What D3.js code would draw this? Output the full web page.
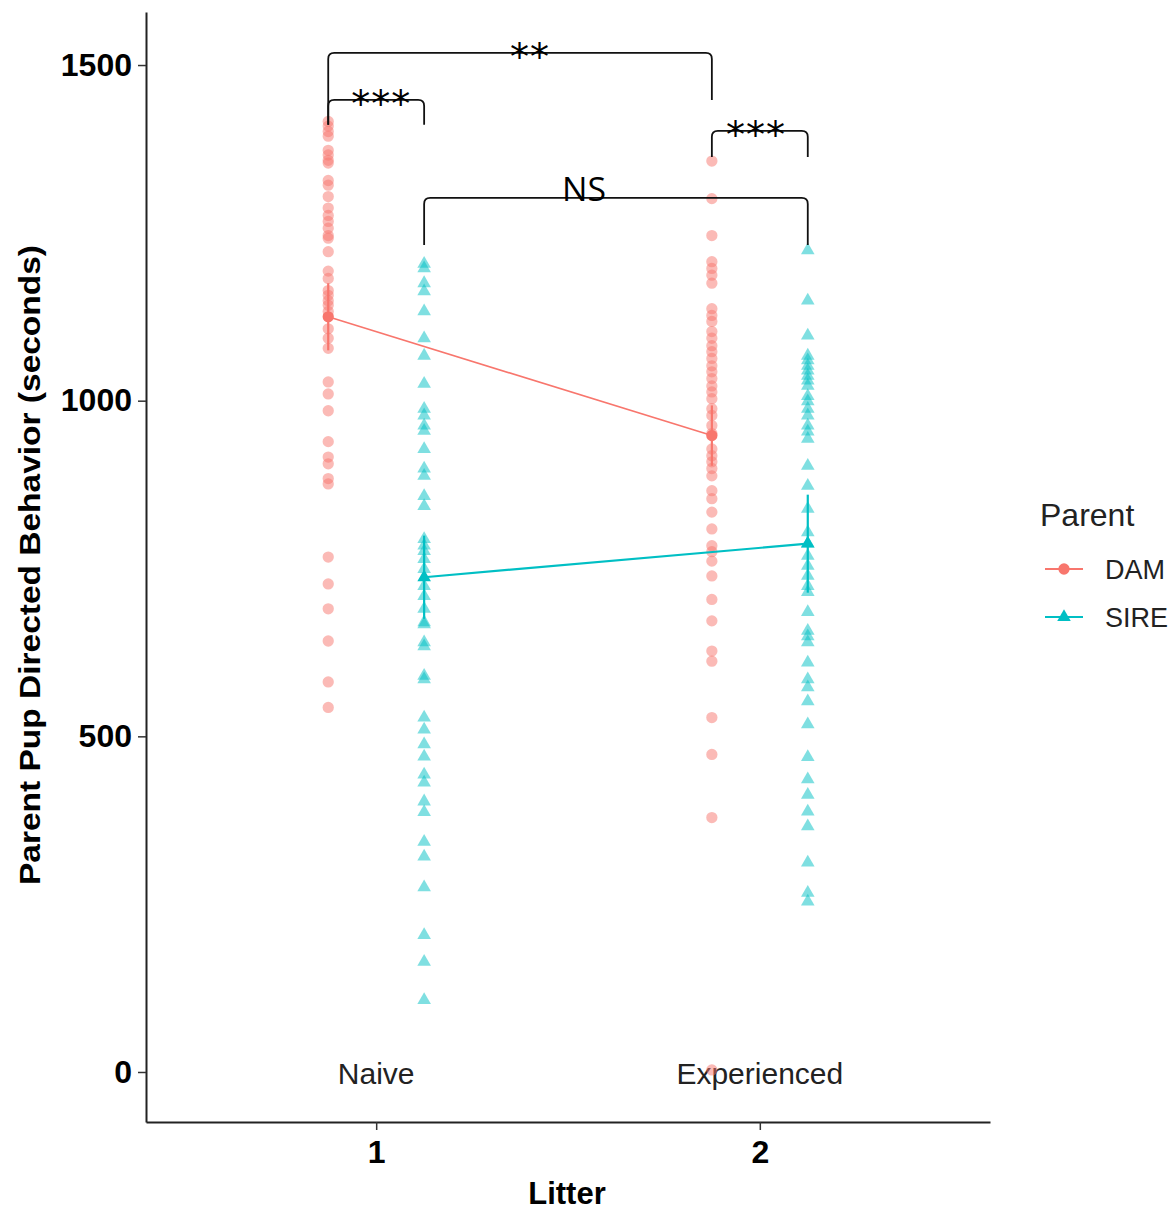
<!DOCTYPE html>
<html><head><meta charset="utf-8">
<script src="https://cdn.jsdelivr.net/npm/d3@7"></script>
<style>body{margin:0;background:#fff}svg{display:block}</style>
</head><body>
<svg id="c" width="1174" height="1212"></svg>
<script>
// ---- data ----
const litters = [1, 2];
const litterLabels = ["Naive", "Experienced"];
const parents = ["DAM", "SIRE"];
const yTicks = [0, 500, 1000, 1500];
const damNaive = [1416,1409,1401,1394,1373,1366,1358,1354,1328,1321,1304,1287,1276,1267,1257,1246,1242,1222,1193,1182,1164,1157,1149,1142,1133,1107,1093,1078,1028,1010,985,939,916,906,884,876,767,727,690,642,581,543];
const damExperienced = [1357,1301,1246,1207,1197,1187,1175,1137,1127,1118,1103,1093,1082,1073,1063,1052,1043,1033,1022,1013,1003,988,978,963,951,928,918,909,899,888,866,854,834,809,784,775,761,739,704,672,627,612,528,473,379,3];
const sireNaive = [1204,1197,1175,1163,1133,1093,1067,1025,988,978,963,955,928,899,888,858,843,794,784,776,764,749,724,709,690,670,667,640,634,590,585,528,510,488,470,443,431,403,387,343,321,275,204,164,107];
const sireExperienced = [1224,1149,1097,1067,1060,1052,1045,1037,1030,1022,1007,999,988,978,963,954,943,903,873,839,804,787,769,754,739,724,715,685,657,649,640,610,585,573,552,518,469,436,413,388,366,312,267,254];
const damMeans = [1125, 948];
const sireMeans = [737, 787];
const damSE = [50, 45];
const sireSE = [62, 73];
const bracketX1 = [0.875, 0.875, 1.875, 1.125];
const bracketX2 = [1.875, 1.125, 2.125, 2.125];
const bracketTop = [1518, 1448, 1402, 1302];
const bracketLegL = [1411, 1411, 1363, 1232];
const bracketLegR = [1448, 1411, 1363, 1232];
const bracketLabels = ["**", "***", "***", "NS"];
const bracketLabelShift = [0.026, 0.013, -0.01, -0.083];

// ---- layout ----
const colors = {DAM: "#F8766D", SIRE: "#00BFC4"};
const dodge = {DAM: -0.125, SIRE: 0.125};
const svg = d3.select("#c");
const x = d3.scaleLinear().domain([0.4, 2.6]).range([146, 990]);
const y = d3.scaleLinear().domain([-74.5, 1579]).range([1122, 12]);
const font = "'Liberation Sans', Arial, sans-serif";

// axes
const yAxis = svg.append("g").attr("transform", "translate(146,0)")
  .call(d3.axisLeft(y).tickValues(yTicks).tickFormat(d3.format("d")).tickSize(8).tickPadding(6).tickSizeOuter(0));
yAxis.select(".domain").attr("stroke", "#222").attr("stroke-width", 2);
yAxis.selectAll(".tick line").attr("stroke", "#333").attr("stroke-width", 1.5);
yAxis.selectAll(".tick text").attr("font-family", font).attr("font-weight", "bold")
  .attr("font-size", 32).attr("fill", "#000");

const xAxis = svg.append("g").attr("transform", "translate(0,1122)")
  .call(d3.axisBottom(x).tickValues(litters).tickFormat(d3.format("d")).tickSize(8).tickPadding(10).tickSizeOuter(0));
xAxis.select(".domain").attr("stroke", "#222").attr("stroke-width", 2);
xAxis.selectAll(".tick line").attr("stroke", "#333").attr("stroke-width", 1.5);
xAxis.selectAll(".tick text").attr("font-family", font).attr("font-weight", "bold")
  .attr("font-size", 32).attr("fill", "#000");

// axis titles
svg.append("text").attr("transform", "translate(40,565) rotate(-90)")
  .attr("text-anchor", "middle").attr("font-family", font).attr("font-weight", "bold")
  .attr("font-size", 30).attr("textLength", 640).attr("lengthAdjust", "spacingAndGlyphs")
  .text("Parent Pup Directed Behavior (seconds)");
svg.append("text").attr("x", 567).attr("y", 1204).attr("text-anchor", "middle")
  .attr("font-family", font).attr("font-weight", "bold").attr("font-size", 31).text("Litter");

// litter labels
svg.selectAll("text.lit").data(litters).enter().append("text").attr("class", "lit")
  .attr("x", d => x(d)).attr("y", y(0) + 12).attr("text-anchor", "middle")
  .attr("font-family", font).attr("font-size", 30).attr("fill", "#222")
  .text((d, i) => litterLabels[i]);

// points
const sets = [
  {p: "DAM", l: 1, v: damNaive}, {p: "DAM", l: 2, v: damExperienced},
  {p: "SIRE", l: 1, v: sireNaive}, {p: "SIRE", l: 2, v: sireExperienced}
];
const circ = d3.symbol().type(d3.symbolCircle).size(100);
const tri = d3.symbol().type(d3.symbolTriangle).size(80);
sets.forEach(s => {
  svg.append("g").selectAll("path").data(s.v).enter().append("path")
    .attr("d", s.p === "DAM" ? circ : tri)
    .attr("transform", d => `translate(${x(s.l + dodge[s.p])},${y(d)})`)
    .attr("fill", colors[s.p]).attr("fill-opacity", 0.5);
});

// means, lines, error bars
const summ = [
  {p: "DAM", m: damMeans, se: damSE},
  {p: "SIRE", m: sireMeans, se: sireSE}
];
summ.forEach(s => {
  const pts = litters.map((l, i) => [x(l + dodge[s.p]), y(s.m[i])]);
  svg.append("path").attr("d", d3.line()(pts)).attr("fill", "none")
    .attr("stroke", colors[s.p]).attr("stroke-width", s.p === "DAM" ? 1.6 : 2.2);
  litters.forEach((l, i) => {
    svg.append("line").attr("x1", x(l + dodge[s.p])).attr("x2", x(l + dodge[s.p]))
      .attr("y1", y(s.m[i] - s.se[i])).attr("y2", y(s.m[i] + s.se[i]))
      .attr("stroke", colors[s.p]).attr("stroke-width", 2.2);
    svg.append("path").attr("d", s.p === "DAM" ? circ : tri)
      .attr("transform", `translate(${x(l + dodge[s.p])},${y(s.m[i])})`)
      .attr("fill", colors[s.p]);
  });
});

// significance brackets
bracketLabels.forEach((lab, i) => {
  const x1 = x(bracketX1[i]), x2 = x(bracketX2[i]);
  const yt = y(bracketTop[i]), yl = y(bracketLegL[i]), yr = y(bracketLegR[i]);
  const r = 6;
  const d = `M${x1},${yl} L${x1},${yt + r} Q${x1},${yt} ${x1 + r},${yt} L${x2 - r},${yt} Q${x2},${yt} ${x2},${yt + r} L${x2},${yr}`;
  svg.append("path").attr("d", d).attr("fill", "none").attr("stroke", "#111").attr("stroke-width", 1.8);
  const cx = x((bracketX1[i] + bracketX2[i]) / 2 + bracketLabelShift[i]);
  if (lab === "NS") {
    svg.append("text").attr("x", cx).attr("y", yt + 3).attr("text-anchor", "middle")
      .attr("font-family", "'Open Sans', sans-serif").attr("font-size", 32)
      .attr("textLength", 44).attr("lengthAdjust", "spacingAndGlyphs").text(lab);
  } else {
    svg.append("text").attr("x", cx).attr("y", yt + 17).attr("text-anchor", "middle")
      .attr("font-family", "'DejaVu Sans', sans-serif").attr("font-size", 38).attr("letter-spacing", 1)
      .text(lab);
  }
});

// legend
const lg = svg.append("g");
lg.append("text").attr("x", 1040).attr("y", 526).attr("font-family", font)
  .attr("font-size", 32).attr("fill", "#222").text("Parent");
parents.forEach((p, i) => {
  const yy = 569 + i * 48;
  lg.append("line").attr("x1", 1045).attr("x2", 1083).attr("y1", yy).attr("y2", yy)
    .attr("stroke", colors[p]).attr("stroke-width", 2.2);
  lg.append("path").attr("d", p === "DAM" ? circ : tri)
    .attr("transform", `translate(1064,${yy})`).attr("fill", colors[p]);
  lg.append("text").attr("x", 1105).attr("y", yy + 10).attr("font-family", font)
    .attr("font-size", 27).attr("fill", "#222").text(p);
});
</script>
</body></html>
